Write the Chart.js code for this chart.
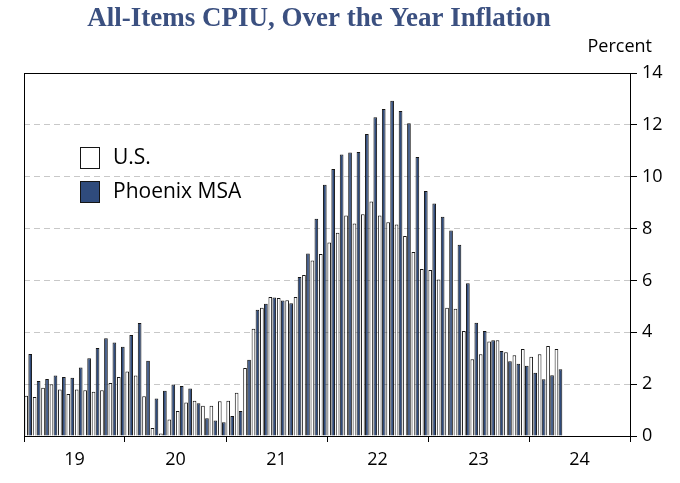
<!DOCTYPE html>
<html>
<head>
<meta charset="utf-8">
<script src="https://cdn.jsdelivr.net/npm/chart.js@4/dist/chart.umd.min.js"></script>
<style>
  html, body { margin: 0; padding: 0; background: #fff; }
  canvas { display: block; }
</style>
</head>
<body>
<canvas id="cpiChart" width="680" height="483"></canvas>
<script>
  // tick labels (years shown under the axis)
  const years = ['19', '20', '21', '22', '23', '24'];
  const monthNames = ['Jan', 'Feb', 'Mar', 'Apr', 'May', 'Jun', 'Jul', 'Aug', 'Sep', 'Oct', 'Nov', 'Dec'];

  // one category per month, Jan 2019 - Dec 2024
  const months = [];
  years.forEach(function (yr) {
    monthNames.forEach(function (m) {
      months.push(m + ' ' + yr);
    });
  });

  // over the year % change, Jan 2019 - Apr 2024
  const usValues = [
    1.55, 1.5, 1.86, 2.0, 1.79, 1.62, 1.79, 1.76, 1.71, 1.76, 2.04, 2.28,
    2.49, 2.33, 1.53, 0.31, 0.1, 0.64, 0.96, 1.29, 1.36, 1.17, 1.17, 1.34,
    1.36, 1.67, 2.62, 4.14, 4.95, 5.36, 5.32, 5.24, 5.36, 6.21, 6.77, 7.02,
    7.46, 7.84, 8.5, 8.2, 8.55, 9.04, 8.5, 8.24, 8.16, 7.71, 7.1, 6.44,
    6.4, 6.04, 4.95, 4.91, 4.05, 2.96, 3.15, 3.64, 3.69, 3.23, 3.11, 3.36,
    3.06, 3.15, 3.47, 3.36
  ];
  const phoenixValues = [
    3.16, 2.12, 2.2, 2.33, 2.28, 2.25, 2.64, 3.0, 3.39, 3.77, 3.61, 3.44,
    3.9, 4.36, 2.9, 1.45, 1.75, 1.99, 1.93, 1.83, 1.26, 0.68, 0.6, 0.53,
    0.77, 0.96, 2.94, 4.87, 5.1, 5.34, 5.23, 5.12, 6.13, 7.04, 8.38, 9.69,
    10.3, 10.86, 10.93, 10.95, 11.65, 12.29, 12.61, 12.93, 12.53, 12.06, 10.76, 9.45,
    8.97, 8.46, 7.93, 7.38, 5.89, 4.37, 4.05, 3.69, 3.28, 2.88, 2.79, 2.71,
    2.44, 2.19, 2.34, 2.57
  ];

  const navy = '#2f4b7c';
  const edge = '#151515';
  const labelFont = '"Open Sans", "Liberation Sans", sans-serif';

  // frame, title, "Percent" and the legend box
  const decorations = {
    id: 'decorations',
    afterDraw: function (chart) {
      const ctx = chart.ctx;
      const area = chart.chartArea;
      const yScale = chart.scales.y;

      ctx.save();
      // box round the plot
      ctx.strokeStyle = '#000';
      ctx.lineWidth = 1;
      ctx.strokeRect(Math.round(area.left) + 0.5, Math.round(area.top) + 0.5,
        Math.round(area.right - area.left), Math.round(area.bottom - area.top));

      // title
      ctx.fillStyle = '#3b5080';
      ctx.font = 'bold 27px "Liberation Serif", "Times New Roman", serif';
      ctx.textAlign = 'center';
      ctx.textBaseline = 'middle';
      ctx.fillText('All-Items CPIU, Over the Year Inflation', (area.left + area.right) / 2 - 8, 19);

      // unit label
      ctx.fillStyle = '#000';
      ctx.font = '18px ' + labelFont;
      ctx.textAlign = 'right';
      ctx.fillText('Percent', yScale.left + 22, area.top - 26);

      // legend
      ctx.textAlign = 'left';
      ctx.font = '21px ' + labelFont;
      chart.data.datasets.forEach(function (ds, i) {
        const bx = area.left + 56;
        const by = area.top + 74 + i * 34;
        ctx.fillStyle = ds.backgroundColor;
        ctx.fillRect(bx, by, 19, 21);
        ctx.strokeStyle = edge;
        ctx.strokeRect(bx + 0.5, by + 0.5, 19, 21);
        ctx.fillStyle = '#000';
        ctx.fillText(ds.label, bx + 33, by + 11);
      });
      ctx.restore();
    },
  };

  const ctx = document.getElementById('cpiChart').getContext('2d');

  new Chart(ctx, {
    type: 'bar',
    data: {
      labels: months,
      datasets: [
        {
          label: 'U.S.',
          data: usValues,
          backgroundColor: '#ffffff',
          borderColor: edge,
          borderWidth: 1,
        },
        {
          label: 'Phoenix MSA',
          data: phoenixValues,
          backgroundColor: navy,
          borderColor: edge,
          borderWidth: 1,
        },
      ],
    },
    options: {
      responsive: false,
      animation: false,
      devicePixelRatio: 1,
      categoryPercentage: 0.95,
      barPercentage: 0.92,
      layout: {
        padding: { top: 73, left: 24, right: 0, bottom: 0 },
      },
      plugins: {
        legend: { display: false },
        title: { display: false },
        tooltip: { enabled: false },
      },
      scales: {
        x: {
          offset: true,
          grid: {
            offset: true,
            drawOnChartArea: false,
            drawTicks: true,
            tickLength: 6,
            // tick marks only at year boundaries
            color: function (c) {
              return c.index === undefined || c.index % 12 === 0 ? '#000' : 'rgba(0,0,0,0)';
            },
          },
          border: { display: false },
          ticks: {
            autoSkip: false,
            maxRotation: 0,
            minRotation: 0,
            padding: 7,
            labelOffset: -4.2,
            color: '#000',
            font: { family: labelFont, size: 18 },
            callback: function (value, index) {
              return index % 12 === 6 ? years[Math.floor(index / 12)] : '';
            },
          },
          afterFit: function (scale) {
            scale.height = 47;
          },
        },
        y: {
          position: 'right',
          min: 0,
          max: 14,
          grid: {
            color: function (c) {
              const v = c.tick ? c.tick.value : 0;
              return v === 0 || v === 14 ? 'rgba(0,0,0,0)' : '#c8c8c8';
            },
            tickColor: '#000',
            tickLength: 7,
            tickBorderDash: [],
            lineWidth: 1,
          },
          border: { color: '#000', width: 1, dash: [6, 4] },
          ticks: {
            stepSize: 2,
            padding: 5,
            color: '#000',
            font: { family: labelFont, size: 18 },
          },
          afterFit: function (scale) {
            scale.width = 50;
          },
        },
      },
    },
    plugins: [decorations],
  });
</script>
</body>
</html>
